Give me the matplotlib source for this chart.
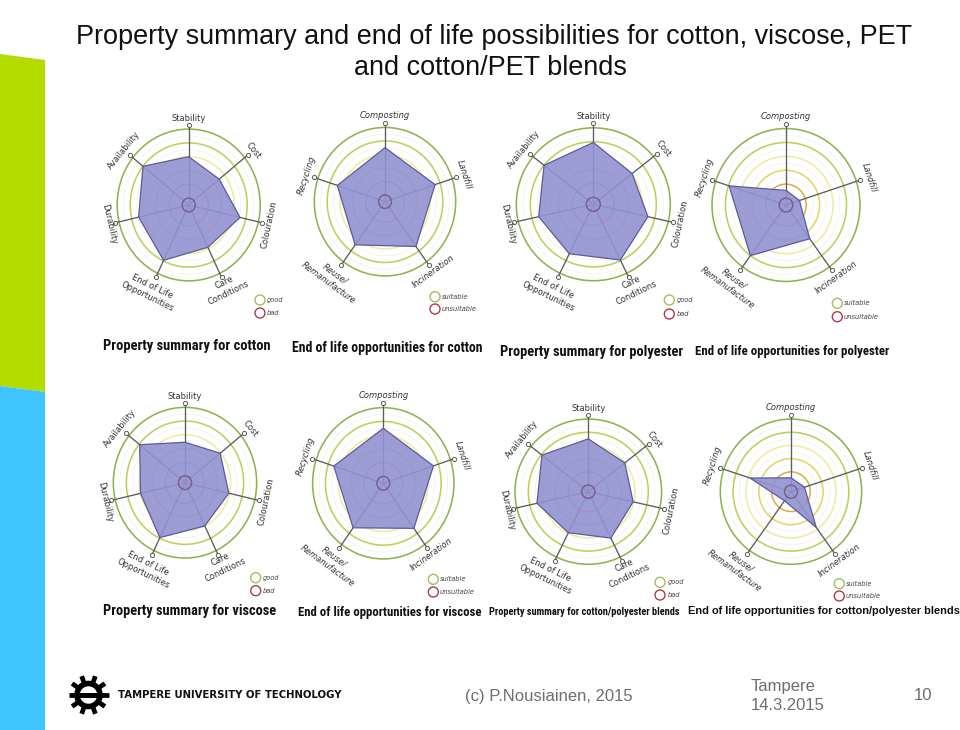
# -*- coding: utf-8 -*-
import numpy as np
import matplotlib
matplotlib.use('Agg')
import matplotlib.pyplot as plt
from matplotlib.patches import Circle, Polygon

# axes of the two kinds of radar
property_axes = ['Stability', 'Cost', 'Colouration', 'Care\nConditions',
                 'End of Life\nOpportunities', 'Durability', 'Availability']
eol_axes = ['Composting', 'Landfill', 'Incineration', 'Reuse/\nRemanufacture', 'Recycling']

# values, rings sit at 0.5, 1.5 ... 5.5
cotton_property = [3.5, 3.0, 4.05, 3.4, 4.45, 3.95, 4.5]
cotton_eol = [4.0, 4.1, 4.1, 3.95, 3.9]
polyester_property = [4.45, 3.55, 4.0, 4.45, 3.95, 4.0, 4.5]
polyester_eol = [1.05, 1.05, 3.0, 4.5, 4.45]
viscose_property = [2.95, 3.45, 3.45, 3.5, 4.45, 3.5, 4.45]
viscose_eol = [4.0, 4.1, 4.05, 4.0, 4.05]
blend_property = [4.0, 3.5, 3.45, 3.9, 3.45, 3.95, 4.45]
blend_eol = [1.05, 1.1, 3.35, 0.85, 3.35]

property_caption = ['Property summary for cotton', 'Property summary for polyester',
                    'Property summary for viscose', 'Property summary for cotton/polyester blends']
eol_caption = ['End of life opportunities for cotton', 'End of life opportunities for polyester',
               'End of life opportunities for viscose', 'End of life opportunities for cotton/polyester blends']

RING_R = [0.5, 1.5, 2.5, 3.5, 4.5, 5.5]
RING_C = ['#7d5f8c', '#dcae4e', '#e6d566', '#f0eba2', '#bcd05c', '#8fb350']
FAINT_R = [1, 2, 3, 4, 5]
SPOKE = 5.82
W, H = 960, 730
NARROW = ['Liberation Sans Narrow', 'Roboto Condensed', 'Open Sans Condensed', 'Noto Sans Condensed',
          'DejaVu Sans Condensed', 'Liberation Sans']

fig = plt.figure(figsize=(W/100, H/100), dpi=100)
bg = fig.add_axes([0, 0, 1, 1])
bg.set_xlim(0, W)
bg.set_ylim(H, 0)
bg.axis('off')


def radar(cx, cy, ux, uy, labels, values, lab_r, lab_rot, italic=False):
    # one axes per radar, ux uy are pixels per ring unit (slide picture is stretched a bit)
    lim = 8.0
    ax = fig.add_axes([(cx-lim*ux)/W, 1-(cy+lim*uy)/H, 2*lim*ux/W, 2*lim*uy/H])
    ax.set_xlim(-lim, lim)
    ax.set_ylim(-lim, lim)
    ax.axis('off')
    ax.patch.set_alpha(0)
    n = len(labels)
    ang = np.arange(n)*2*np.pi/n
    sx, cs = np.sin(ang), np.cos(ang)
    for r in FAINT_R:
        ax.add_patch(Circle((0, 0), r, fill=False, ec='#f0f0ec', lw=0.5, zorder=1))
    for r, c in zip(RING_R[1:], RING_C[1:]):
        ax.add_patch(Circle((0, 0), r, fill=False, ec=c, lw=1.15, zorder=1))
    for i in range(n):
        ax.plot([0, SPOKE*sx[i]], [0, SPOKE*cs[i]], color='#5c5c5c', lw=0.95, zorder=2)
        ax.plot(SPOKE*sx[i], SPOKE*cs[i], 'o', ms=3, mfc='white', mec='#5c5c5c', mew=0.7, zorder=3)
    v = np.array(values)
    ax.add_patch(Polygon(np.c_[v*sx, v*cs], closed=True, fc='#9292d2', ec='none', alpha=0.9, zorder=4))
    ax.add_patch(Polygon(np.c_[v*sx, v*cs], closed=True, fill=False, ec='#5b5b9b', lw=0.9, zorder=5))
    # little ring in the middle
    ax.add_patch(Circle((0, 0), 0.5, fill=False, ec=RING_C[0], lw=1.1, zorder=6))
    for i in range(n):
        ax.text(lab_r[i]*sx[i], lab_r[i]*cs[i], labels[i], rotation=lab_rot[i], rotation_mode='anchor',
                ha='center', va='center', multialignment='center', fontsize=6, color='#333333',
                style='italic' if italic else 'normal', linespacing=1.3, zorder=7)


def legend(x, y1, y2, xt, good, bad):
    bg.add_patch(Circle((x, y1), 5, fill=False, ec='#9fc060', lw=1))
    bg.add_patch(Circle((x, y2), 5, fill=False, ec='#b03a4a', lw=1))
    bg.text(xt, y1, good, style='italic', fontsize=4.8, color='#444444', va='center')
    bg.text(xt, y2, bad, style='italic', fontsize=4.8, color='#444444', va='center')


def caption(text, x0, x1, y, family=NARROW):
    # font size picked so the caption fills the same width as in the slide
    t = bg.text(x0, y, text, fontweight='bold', family=family, fontsize=10,
                color='#111111', va='center', ha='left')
    w = t.get_window_extent(fig.canvas.get_renderer()).width
    t.set_fontsize(10*(x1-x0)/w)


prop_r = [6.3, 6.37, 6.35, 6.65, 6.95, 6.27, 6.35]
prop_rot = [0, -51, 78, 26, -26, -77, 51]
eol_r = [6.4, 6.46, 6.4, 7.0, 6.37]
eol_rot = [0, -72, 36, -36, 72]

radar(188.7, 205, 13.0, 13.8, property_axes, cotton_property, prop_r, prop_rot)
radar(385, 201.7, 12.85, 13.5, eol_axes, cotton_eol, eol_r, eol_rot, True)
radar(593.3, 204.3, 14.0, 13.9, property_axes, polyester_property, prop_r, prop_rot)
radar(786, 205, 13.45, 13.9, eol_axes, polyester_eol, eol_r, eol_rot, True)
radar(185, 482.7, 13.03, 13.7, property_axes, viscose_property, prop_r, prop_rot)
radar(383.3, 483.3, 12.85, 13.75, eol_axes, viscose_eol, eol_r, eol_rot, True)
radar(588.3, 491.7, 13.33, 13.2, property_axes, blend_property, prop_r, prop_rot)
radar(791, 491.7, 12.85, 13.2, eol_axes, blend_eol, eol_r, eol_rot, True)

legend(260, 300, 313, 267, 'good', 'bad')
legend(435, 296.7, 309, 441.7, 'suitable', 'unsuitable')
legend(669.3, 300, 314, 677, 'good', 'bad')
legend(837.3, 303.3, 316.7, 844, 'suitable', 'unsuitable')
legend(255.7, 577.7, 590.7, 263, 'good', 'bad')
legend(433.3, 579.3, 592, 440, 'suitable', 'unsuitable')
legend(660, 582.3, 595, 667.3, 'good', 'bad')
legend(839.3, 583.7, 596, 846, 'suitable', 'unsuitable')

caption(property_caption[0], 102.7, 270, 346)
caption(eol_caption[0], 291.7, 481.7, 348)
caption(property_caption[1], 500, 683, 351.7)
caption(eol_caption[1], 695, 889, 351)
caption(property_caption[2], 102.7, 276.7, 610.7)
caption(eol_caption[2], 297.7, 480.7, 612.3)
caption(property_caption[3], 489, 681.7, 611.7)
caption(eol_caption[3], 688, 959, 611, 'Liberation Sans')

# side bars of the slide template
bg.add_patch(Polygon([(0, 54), (45, 60), (45, 392), (0, 386)], fc='#b4dc00', ec='none'))
bg.add_patch(Polygon([(0, 386), (45, 392), (45, 730), (0, 730)], fc='#40c4ff', ec='none'))

# title
bg.text(494.5, 37, 'Property summary and end of life possibilities for cotton, viscose, PET',
        family='Liberation Sans', fontsize=19.45, color='#111111', ha='center', va='center')
bg.text(490, 68, 'and cotton/PET blends', family='Liberation Sans', fontsize=19.45,
        color='#111111', ha='center', va='center')

# footer
bg.text(465, 696, '(c) P.Nousiainen, 2015', family='Liberation Sans', fontsize=12, color='#6e6e6e', va='center')
bg.text(751, 687, 'Tampere', family='Liberation Sans', fontsize=12, color='#6e6e6e', va='center')
bg.text(751, 706, '14.3.2015', family='Liberation Sans', fontsize=12, color='#6e6e6e', va='center')
bg.text(932, 696, '10', family='Liberation Sans', fontsize=12, color='#6e6e6e', va='center', ha='right')

# university logo
lx, ly = 88.5, 695
for a in [0, 180, 35, -35, 145, -145, 70, -70, 110, -110]:
    ra = np.deg2rad(a)
    bg.plot([lx+11*np.cos(ra), lx+20*np.cos(ra)], [ly+11*np.sin(ra), ly+20*np.sin(ra)],
            color='black', lw=3.4, solid_capstyle='butt')
bg.add_patch(Circle((lx, ly), 11.5, fill=False, ec='black', lw=4))
bg.plot([lx-10, lx+10], [ly, ly], color='black', lw=3.6, solid_capstyle='butt')
t = bg.text(118, 694.5, 'TAMPERE UNIVERSITY OF TECHNOLOGY', fontweight='bold', family='DejaVu Sans',
            fontsize=7, color='#111111', va='center')
t.set_fontsize(7*224/t.get_window_extent(fig.canvas.get_renderer()).width)

fig.savefig('out.png', dpi=100)
